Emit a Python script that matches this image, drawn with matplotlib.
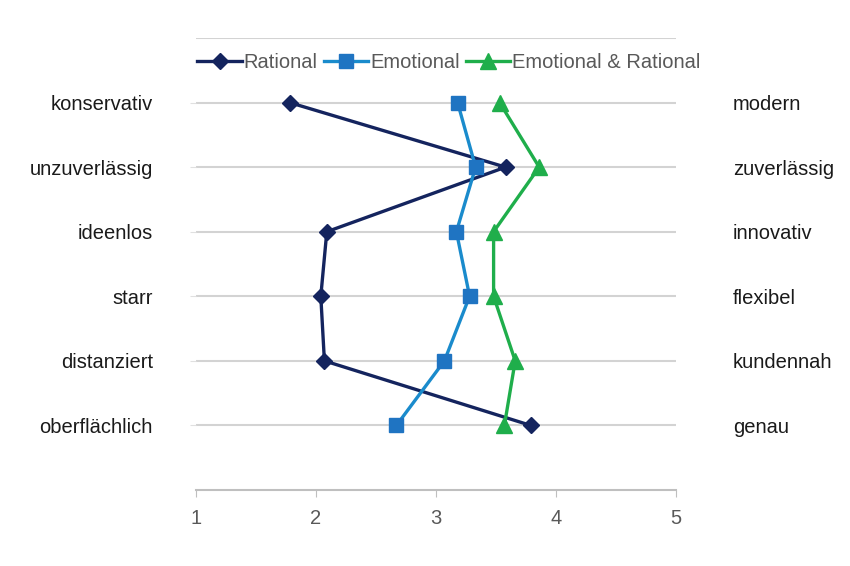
import matplotlib.pyplot as plt

left_labels = ['konservativ', 'unzuverlässig', 'ideenlos', 'starr', 'distanziert', 'oberflächlich']
right_labels = ['modern', 'zuverlässig', 'innovativ', 'flexibel', 'kundennah', 'genau']

rational = [1.78, 3.58, 2.09, 2.04, 2.07, 3.79]
emotional = [3.18, 3.33, 3.17, 3.28, 3.07, 2.67]
emo_rational = [3.53, 3.86, 3.48, 3.48, 3.66, 3.57]

plt.rcParams['font.family'] = ['Liberation Sans', 'DejaVu Sans']

fig = plt.figure(figsize=(8.5, 5.66), dpi=100)
ax = fig.add_axes([196 / 850, 1 - 490 / 566, 480 / 850, 452 / 566])

rows = list(range(1, len(left_labels) + 1))

# horizontal grid lines at every row plus one at the top
for y in [0] + rows:
    ax.axhline(y, color='#d3d3d3', lw=1.5, zorder=0)

ax.plot(rational, rows, color='#14245e', lw=2.4, marker='D', ms=8.5, label='Rational', zorder=3)
ax.plot(emotional, rows, color='#1a8bcc', lw=2.4, marker='s', ms=10,
        mfc='#1f74c2', mec='#1f74c2', label='Emotional', zorder=3)
ax.plot(emo_rational, rows, color='#1fae4b', lw=2.4, marker='^', ms=11, label='Emotional & Rational', zorder=3)

ax.set_xlim(1, 5)
ax.set_ylim(7, 0)
ax.set_xticks([1, 2, 3, 4, 5])
ax.set_yticks(rows)
ax.set_yticklabels(left_labels, fontsize=14.5, color='#1a1a1a')
ax.tick_params(axis='y', length=4, color='#e0e0e0', pad=27)
ax.tick_params(axis='x', length=5, color='#bfbfbf', labelsize=14.5, labelcolor='#595959', pad=9)

for s in ['top', 'left', 'right']:
    ax.spines[s].set_visible(False)
ax.spines['bottom'].set_color('#bfbfbf')
ax.spines['bottom'].set_linewidth(1.5)

ax2 = ax.twinx()
ax2.set_ylim(7, 0)
ax2.set_yticks(rows)
ax2.set_yticklabels(right_labels, fontsize=14.5, color='#1a1a1a')
ax2.tick_params(axis='y', length=0, pad=41)
for s in ax2.spines.values():
    s.set_visible(False)

leg = ax.legend(loc='center', bbox_to_anchor=(0.527, 0.945), ncol=3, frameon=False,
                fontsize=14.5, handlelength=2.2, handletextpad=0.1, columnspacing=0.3,
                borderpad=0)
for t in leg.get_texts():
    t.set_color('#595959')

fig.savefig('out.png', dpi=100)
